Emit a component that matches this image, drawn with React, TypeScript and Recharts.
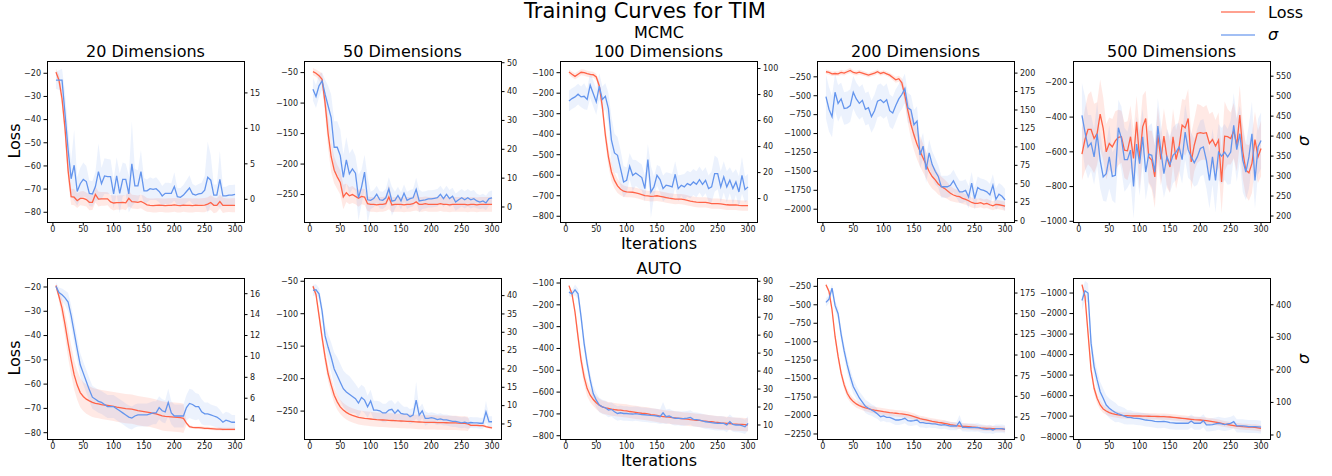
import React from 'react';
import { ComposedChart, Line, Area, XAxis, YAxis } from 'recharts';

const FONT = '"DejaVu Sans", sans-serif';
const RED = '#FF6347';
const BLUE = '#6495ED';

// ---------- shared x values ----------
const iterations = [5,10,15,20,25,30,35,40,45,50,55,60,65,70,75,80,85,90,95,100,105,110,115,120,125,130,135,140,145,150,155,160,165,170,175,180,185,190,195,200,205,210,215,220,225,230,235,240,245,250,255,260,265,270,275,280,285,290,295,300];
const xTicks = [0,50,100,150,200,250,300];

// ---------- MCMC 20 ----------
const mcmc20Loss = [-19.5,-23,-31,-44,-62,-73.3,-73.5,-75,-74,-74, -74.5,-75.7,-75.7,-72.3,-74.3,-74.2,-74.2,-74.2,-75.5,-76, -75.8,-75.8,-75.7,-75.9,-74,-75.4,-75.5,-75.7,-75.3,-76, -76.8,-77,-77.1,-77,-76.9,-77,-77.1,-77,-77,-76.8, -77,-77.1,-76.9,-77,-77,-77.1,-76.9,-77,-77,-76.9, -76.5,-75.8,-77,-77,-75.4,-77,-77,-77,-77,-77];
const mcmc20LossSd = [1.5,2.5,3.5,4.5,4.5,3.5,3.5,3.2,3,3.2, 3,3.4,3.3,3.5,3.2,3,3,2.8,3,3.2, 3,3.1,3,3.2,3.4,3,3,2.9,3,3.1, 3,2.9,3,3.1,3,2.9,3,3.1,3,3, 3.1,3,2.9,3,3.1,3,3,2.9,3,3.1, 3,3.2,3.4,3,3,3.3,3,2.9,3,3];
const mcmc20Sigma = [16.8,16.8,16.8,12,7,2.9,4.8,1.1,2.2,2.8, 2.5,0.84,0.75,1.8,3.9,2.2,3.3,3.2,3.2,0.75, 3.3,0.84,2.8,2.8,0.75,5,1.9,1.9,3.9,1.2, 1.2,1.5,1.4,1.5,1.1,0.47,0.84,0.84,0.84,1.8, 0.37,0.28,0.6,1.1,1.6,0.75,0.6,0.75,0.84,1.3, 3.1,2.7,0.6,0.6,2.8,0.47,0.47,0.6,0.6,0.7];
const mcmc20SigmaSd = [1.2,1.4,1.6,3,3,2.5,5,2,2.2,2.4, 2.2,1.8,1.8,2,4,2.2,2.5,2.5,2.4,2, 2.6,2.8,2.4,2.2,2.6,6,2.4,2.2,3,1.8, 1.6,1.6,1.5,1.6,1.5,1.4,1.5,1.5,1.4,2, 1.2,1.3,1.4,1.6,1.8,1.4,1.3,1.4,1.5,2, 5,3.5,1.5,1.5,4,1.3,1.3,1.4,1.4,1.4];

// ---------- MCMC 50 ----------
const mcmc50Loss = [-48.4,-51,-55,-61,-100,-150,-188,-210,-221,-230, -254,-247,-252,-250,-253,-256,-253,-254,-265,-266, -266,-267,-266,-266,-265,-254,-267,-266,-266,-266, -267,-266,-266,-265,-262,-266,-266,-265,-266,-266, -266,-266,-265,-266,-266,-267,-266,-266,-266,-266, -266,-267,-266,-266,-267,-266,-266,-266,-266,-266];
const mcmc50LossSd = [6,6,7,10,18,25,25,22,20,20, 20,15,14,14,13,14,13,13,12,12, 12,12,12,12,12,20,12,12,12,12, 12,12,12,12,14,12,12,12,12,12, 12,12,12,12,12,12,12,12,12,12, 12,12,12,12,12,12,12,12,12,12];
const mcmc50Sigma = [40.8,38.3,42,43.7,39.1,35,31,20.7,20.7,17.8, 10.3,16.3,11.5,13.2,11.7,3.2,6.9,12.1,2.5,2.3, 2.9,4.4,2.5,2.3,3.2,6.3,2,2.3,4,2.1, 4.8,2.3,2.9,3.2,6.1,2.1,2.3,2.5,2.8,2.8, 3,3.2,4.4,2.9,4.4,2.9,3.7,1.7,2.5,3.2, 2.5,3.2,2.5,2.9,2.1,1.7,2.1,1.4,2.9,3.2];
const mcmc50SigmaSd = [4,4,4,3,5,7,8,9,9,9, 8,8,7,7,6,8,6,6,8,3, 3,3,3,3,3,4,5,3,3,3, 3,3,3,3,4,4,3,3,3,3, 3,3,3,3,3,3,3,3,3,3, 3,3,3,3,2.5,2.5,2.5,2.5,2.5,2.5];

// ---------- MCMC 100 ----------
const mcmc100Loss = [-97,-108,-118,-108,-98,-100,-105,-108,-110,-121, -165,-267,-405,-511,-584,-625,-652,-668,-678,-681, -682,-683,-686,-690,-694,-699,-701,-703,-702,-700, -703,-706,-709,-712,-714,-716,-716,-716,-719,-722, -726,-729,-731,-732,-732,-732,-735,-738,-738,-738, -740,-742,-744,-745,-745,-745,-747,-748,-748,-748];
const mcmc100LossSd = [12,14,15,15,15,15,15,15,15,16, 20,30,40,45,45,40,35,30,28,26, 25,25,25,25,25,25,25,25,25,25, 25,24,25,24,25,25,24,25,25,25, 24,25,25,25,25,25,25,25,25,25, 25,25,25,25,25,25,25,25,25,25];
const mcmc100Sigma = [75.1,76.9,78.2,80.3,78.2,78.7,76.2,87.2,80.8,74.4, 86.4,76.2,78.7,69.2,44.9,35.1,33.3,23.1,12.8,14.1, 24.9,17.9,19.7,17.9,16.2,7.7,30,5.1,9,17.9, 14.6,7.7,10.3,9.7,9,18.7,7.7,10.3,9,11.5, 10.3,12.8,11,14.6,11,14.1,7.7,9,19.2,19.2, 9,16.7,9,14.1,7.7,12.8,5.1,17.9,6.9,9];
const mcmc100SigmaSd = [8,8,8,8,8,10,8,10,10,10, 10,10,10,12,18,15,14,14,12,10, 10,12,10,10,10,10,12,20,8,8, 10,10,10,10,10,10,10,8,10,10, 10,10,10,10,10,10,10,12,14,12, 12,12,12,10,12,10,12,14,10,10];

// ---------- MCMC 200 ----------
const mcmc200Loss = [-183,-192,-210,-206,-210,-192,-201,-183,-166,-192, -201,-188,-201,-214,-228,-214,-201,-183,-206,-192, -210,-228,-259,-290,-275,-330,-500,-700,-880,-1020, -1140,-1235,-1324,-1413,-1502,-1568,-1613,-1666,-1701,-1724, -1755,-1790,-1812,-1826,-1835,-1857,-1870,-1888,-1911,-1923, -1923,-1914,-1932,-1923,-1941,-1955,-1937,-1941,-1950,-1959];
const mcmc200LossSd = [30,30,30,30,30,35,30,30,35,30, 30,30,30,30,30,30,30,30,30,30, 30,30,35,40,40,60,110,160,190,200, 200,200,190,180,170,160,150,140,130,120, 110,100,90,85,80,75,70,70,65,65, 60,60,60,60,60,60,60,60,60,60];
const mcmc200Sigma = [168,151,141,174,159,165,152,153,156,174, 165,159,163,151,153,141,149,162,164,160, 164,149,146,156,165,171,179,153,150,130, 135,89,101,69,92,76,67,60,46,46, 46,48,54,46,39,39,41,32,51,30, 45,42,41,39,35,48,29,36,33,28];
const mcmc200SigmaSd = [30,30,28,25,25,22,22,22,22,22, 22,22,22,22,22,22,22,22,22,22, 22,22,22,22,20,20,20,20,20,20, 20,18,18,18,18,18,18,15,15,15, 15,15,15,15,15,15,15,15,15,15, 15,15,15,15,15,15,15,15,15,15];

// ---------- MCMC 500 ----------
const mcmc500Loss = [-613,-529,-471,-471,-523,-494,-383,-465,-600,-552, -571,-537,-517,-513,-590,-594,-513,-638,-427,-644, -456,-408,-629,-648,-744,-504,-644,-510,-635,-687, -513,-644,-571,-446,-462,-408,-658,-562,-494,-490, -494,-490,-552,-529,-567,-533,-773,-510,-513,-523, -479,-562,-388,-600,-706,-721,-667,-529,-629,-581];
const mcmc500LossSd = [150,180,200,220,200,180,200,180,160,150, 160,170,160,150,160,170,180,160,150,170, 180,160,150,170,180,160,150,160,170,150, 160,170,160,150,160,170,160,150,170,160, 150,160,170,160,150,160,180,200,160,150, 160,150,170,160,150,160,170,160,150,160];
const mcmc500Sigma = [452,410,373,383,348,406,339,298,306,348, 299,302,421,394,341,341,365,274,380,331, 398,310,355,352,310,425,363,306,348,329, 352,360,373,341,410,366,348,333,348,369, 373,339,289,348,289,360,350,360,348,360, 427,366,406,339,310,348,406,289,373,389];
const mcmc500SigmaSd = [80,90,80,70,70,80,70,60,70,80, 60,70,70,80,80,70,80,80,70,80, 70,70,70,80,70,70,70,60,70,70, 70,70,60,60,70,70,60,60,70,70, 70,70,70,70,80,70,70,70,70,80, 80,80,70,80,70,80,80,70,70,70];

// ---------- AUTO 20 ----------
const auto20Loss = [-19.4,-23.9,-28.7,-35.5,-43.1,-50,-56.2,-60.4,-63.5,-65.1, -66.2,-66.9,-67.5,-67.9,-68.1,-68.4,-68.6,-68.8,-69,-69.2, -69.5,-69.7,-69.9,-70.1,-70.2,-70.3,-70.6,-70.9,-71.1,-71.3, -71.5,-71.7,-72,-72.3,-72.7,-73.1,-73.3,-73.4,-73.5,-73.6, -73.7,-73.8,-74.1,-76.1,-77.5,-77.8,-77.9,-77.9,-78,-78.2, -78.2,-78.3,-78.4,-78.5,-78.5,-78.6,-78.6,-78.6,-78.6,-78.6];
const auto20LossSd = [0.5,2,4,5,6,6,6,6,6,6, 6,6,6,6,6,6,6,6,6,6, 6,6,6,6,6,6,6,6,6,6, 6,6,6,6,6,6,6,6,6,6, 6,6,6,0.6,0.6,0.6,0.6,0.6,0.6,0.6, 0.6,0.6,0.6,0.6,0.6,0.6,0.6,0.6,0.6,0.6];
const auto20Sigma = [16.7,16.1,15.9,15.6,15.2,13.9,12.3,10.7,9.2,8.4, 7.6,6.8,6.1,5.9,5.7,5.6,5.4,5.2,5.2,5.2, 5,4.8,4.6,4.4,4.2,4.1,4.3,4.4,4.4,4.4, 4.4,4.5,4.6,4.6,5.1,4.8,4.7,5.6,4.6,4.3, 4.3,4.3,4.3,5.1,5.5,5.4,5.2,5.2,4.7,4.5, 4.5,4.4,4.3,4.2,4,3.7,3.9,3.8,3.7,3.7];
const auto20SigmaSd = [0.4,0.5,0.6,0.7,0.9,1,1.1,1.1,1.1,1.1, 1.1,1.1,1.1,1.1,1.1,1.1,1.1,1.1,1.1,1.1, 1.1,1.1,1.1,1.1,1.1,1.1,1.1,1.1,1.1,1.1, 1.1,1.1,1.1,1.1,1.1,1.1,1.1,1.3,1.1,1.1, 1.1,1.1,1.1,1.2,1.4,1.4,1.3,1.2,1.2,1.1, 1.1,1,1,1,0.9,0.8,0.8,0.8,0.7,0.7];

// ---------- AUTO 50 ----------
const auto50Loss = [-57.6,-70.4,-103,-136.5,-167,-192.5,-210,-225.6,-235.8,-243.5, -248.5,-252,-254.6,-256.6,-258,-259.7,-260.5,-261.2,-261.7,-262.2, -262.7,-263.2,-263.5,-263.7,-264,-264.3,-264.5,-264.8,-265,-265.3, -265.5,-265.8,-266,-266.3,-266.5,-266.8,-267,-267.3,-267.3,-267.3, -267.5,-267.8,-267.8,-267.8,-268,-268.3,-268.3,-268.3,-268.5,-268.8, -269,-269.8,-271.9,-271.9,-272,-272.4,-272.4,-273.9,-275,-276];
const auto50LossSd = [3,5,8,10,12,12,12,12,12,11, 11,11,11,11,11,11,11,11,11,11, 11,11,11,11,11,11,11,11,11,11, 11,11,11,11,11,11,11,11,11,11, 11,11,11,11,11,11,11,11,11,11, 11,11,2,2,2,2,2,2,2,2];
const auto50Sigma = [41.4,41.6,40.5,35.8,29,25.9,23.2,20,18.2,16.4, 14.6,13.7,13.1,12.5,11.9,10.7,12.2,11.5,9.7,11.3, 8.8,8.8,8.6,8,8,8.8,9,7.9,8.8,7.9, 7.7,7.7,7,7.4,11.5,7.4,8.6,6.5,6.5,6.7, 6.5,6.2,6.4,6.1,6.1,5.9,5.7,5.7,5.5,5.3, 5.5,5.2,5.4,5.3,5.3,5.2,5.2,8.3,5.6,5.6];
const auto50SigmaSd = [1.5,1.5,1.5,2,3,3.5,4,4.5,5,5, 5,5,5,4.5,4,4,3.5,3.5,3,3, 2.5,2.5,2.5,2.5,2.5,2.5,2.5,2.5,2.5,2.5, 2,2,2,2,5,2,2,2,1.5,1.5, 1.5,1.5,1.5,1.5,1.5,1.5,1.5,1.5,1.5,1.5, 1.5,1.5,1.5,1.5,1.5,1.5,1.5,3,1.5,1.5];

// ---------- AUTO 100 ----------
const auto100Loss = [-112,-150,-234,-348,-455,-531,-584,-614,-634,-649, -660,-668,-672,-675,-678,-680,-682,-683,-685,-686, -689,-691,-693,-695,-697,-698,-700,-703,-705,-707, -710,-712,-714,-715,-717,-718,-720,-721,-723,-724, -726,-727,-729,-730,-732,-733,-735,-736,-738,-739, -741,-742,-743,-744,-746,-747,-748,-748,-749,-750];
const auto100LossSd = [5,10,20,30,35,35,35,32,30,30, 30,30,30,30,30,30,30,30,30,30, 30,30,30,30,30,30,30,30,30,30, 30,30,30,30,30,30,30,30,30,30, 30,30,30,30,30,30,30,30,30,30, 30,30,30,30,30,30,30,30,30,30];
const auto100Sigma = [83.9,83,85.2,83,70,55.3,44.2,34.9,27.5,23.8, 21.1,20.1,19.6,18.3,18.7,17.4,16.4,16.8,16.4,16.4, 16.2,16.1,16.3,16.1,15.8,15.7,15.5,15.3,15.2,15, 14.6,16.8,14.6,15,14.2,13.7,13.8,13.5,13.6,13.8, 14.2,13.1,13,12.7,12.3,11.8,11.6,11.3,11.1,10.9, 11,10.9,10,11.8,10.3,10,10,9.6,9,10.9];
const auto100SigmaSd = [2,2,3,3,4,4,4,4,4,4, 4,4,4,4,4,4,4,4,4,4, 4,4,4,4,4,4,4,4,4,4, 4,6,4,4,4,4,4,4,4,4, 4,4,4,4,4,4,4,4,4,4, 4,4,4,4,4,4,4,4,4,4];

// ---------- AUTO 200 ----------
const auto200Loss = [-227,-318,-567,-929,-1200,-1426,-1585,-1698,-1766,-1811, -1843,-1865,-1883,-1897,-1906,-1920,-1927,-1933,-1940,-1947, -1953,-1960,-1965,-1969,-1974,-1978,-1985,-1992,-2003,-2015, -2028,-2042,-2051,-2060,-2069,-2078,-2085,-2092,-2098,-2105, -2114,-2123,-2130,-2137,-2142,-2146,-2148,-2150,-2155,-2159, -2164,-2168,-2170,-2173,-2175,-2177,-2177,-2177,-2182,-2187];
const auto200LossSd = [20,30,50,60,60,60,60,60,55,50, 50,45,45,45,45,45,45,45,45,45, 45,45,45,45,45,45,45,45,45,45, 40,40,40,40,40,40,40,40,40,40, 40,40,40,40,40,40,40,40,40,40, 35,35,35,35,35,35,35,35,35,35];
const auto200Sigma = [163.7,167.7,181,160,150,125,105,88,74,62, 55,48,43,38,35.6,33.5,31.5,28.7,25.4,26.3, 24.6,24.6,23,21.4,21.4,22.2,23.4,20.6,20.2,20.6, 21.4,18.2,18.2,17.4,17.4,16.6,16.6,15.7,15.3,15.7, 14.9,14.1,14.1,14.1,19.4,12.5,12.5,12.1,12.5,12.1, 12.5,11.3,10.5,10.1,10.5,9.3,10.9,10.9,10.9,10.1];
const auto200SigmaSd = [5,5,5,6,7,8,8,9,9,9, 8,8,8,8,8,7,7,6,6,6, 6,6,6,6,6,6,6,6,6,6, 6,6,6,6,5,5,5,5,5,5, 5,5,5,5,8,5,5,5,5,5, 5,5,5,5,5,5,5,5,5,5];

// ---------- AUTO 500 ----------
const auto500Loss = [-593,-1163,-2954,-4746,-5642,-6130,-6456,-6651,-6749,-6831, -6879,-6912,-6940,-6961,-6970,-6977,-6985,-6993,-6993,-6993, -6998,-7002,-7006,-7010,-7014,-7018,-7022,-7026,-7034,-7042, -7058,-7075,-7091,-7107,-7124,-7140,-7157,-7173,-7181,-7189, -7205,-7221,-7245,-7270,-7295,-7319,-7352,-7384,-7408,-7433, -7458,-7482,-7498,-7515,-7523,-7531,-7539,-7547,-7570,-7596];
const auto500LossSd = [50,100,200,250,250,250,220,200,180,170, 160,160,150,150,150,150,150,150,150,150, 150,150,150,150,150,150,150,150,150,150, 150,150,150,150,150,150,150,150,150,150, 150,150,150,150,150,150,150,150,150,150, 150,150,150,150,150,150,150,150,150,150];
const auto500Sigma = [413,443,436,282,210,169,133,113,92,82, 75,69,65,62,58,54,54,52,51,50, 48,46,45,44,42,41,41,42,40,38, 37,36,36,36,36,36,43,36,36,36, 44,31,31,32,34,36,34,32,34,36, 41,28,28,28,27,26,26,26,25,24];
const auto500SigmaSd = [30,30,30,30,30,30,30,30,30,30, 30,30,25,25,25,22,22,20,20,20, 20,20,20,20,20,20,20,20,20,20, 20,20,20,20,20,20,20,20,20,20, 20,20,20,20,20,20,20,20,20,20, 20,20,20,20,20,20,20,20,20,20];

// ---------- axis ticks ----------
const ticksLoss20 = [-80,-70,-60,-50,-40,-30,-20];
const ticksLoss50 = [-250,-200,-150,-100,-50];
const ticksLoss100 = [-800,-700,-600,-500,-400,-300,-200,-100];
const ticksLoss200m = [-2000,-1750,-1500,-1250,-1000,-750,-500,-250];
const ticksLoss500m = [-1000,-800,-600,-400,-200];
const ticksLoss200a = [-2250,-2000,-1750,-1500,-1250,-1000,-750,-500,-250];
const ticksLoss500a = [-8000,-7000,-6000,-5000,-4000,-3000,-2000,-1000];
const ticksSigM20 = [0,5,10,15];
const ticksSigM50 = [0,10,20,30,40,50];
const ticksSigM100 = [0,20,40,60,80,100];
const ticksSigM200 = [0,25,50,75,100,125,150,175,200];
const ticksSigM500 = [200,250,300,350,400,450,500,550];
const ticksSigA20 = [4,6,8,10,12,14,16];
const ticksSigA50 = [5,10,15,20,25,30,35,40];
const ticksSigA100 = [10,20,30,40,50,60,70,80,90];
const ticksSigA200 = [0,25,50,75,100,125,150,175];
const ticksSigA500 = [0,100,200,300,400];

type Spec = {
  loss: number[]; lossSd: number[]; sigma: number[]; sigmaSd: number[];
  lossDomain: [number, number]; lossTicks: number[];
  sigDomain: [number, number]; sigTicks: number[];
};

const panelsTop: Spec[] = [
  { loss: mcmc20Loss, lossSd: mcmc20LossSd, sigma: mcmc20Sigma, sigmaSd: mcmc20SigmaSd, lossDomain: [-84.2, -14.7], lossTicks: ticksLoss20, sigDomain: [-3.2, 19.5], sigTicks: ticksSigM20 },
  { loss: mcmc50Loss, lossSd: mcmc50LossSd, sigma: mcmc50Sigma, sigmaSd: mcmc50SigmaSd, lossDomain: [-295, -31], lossTicks: ticksLoss50, sigDomain: [-5.2, 50.6], sigTicks: ticksSigM50 },
  { loss: mcmc100Loss, lossSd: mcmc100LossSd, sigma: mcmc100Sigma, sigmaSd: mcmc100SigmaSd, lossDomain: [-828, -43], lossTicks: ticksLoss100, sigDomain: [-18, 105.8], sigTicks: ticksSigM100 },
  { loss: mcmc200Loss, lossSd: mcmc200LossSd, sigma: mcmc200Sigma, sigmaSd: mcmc200SigmaSd, lossDomain: [-2169, -41], lossTicks: ticksLoss200m, sigDomain: [-1.8, 216.4], sigTicks: ticksSigM200 },
  { loss: mcmc500Loss, lossSd: mcmc500LossSd, sigma: mcmc500Sigma, sigmaSd: mcmc500SigmaSd, lossDomain: [-1004, -77], lossTicks: ticksLoss500m, sigDomain: [185, 588], sigTicks: ticksSigM500 },
];
const panelsBottom: Spec[] = [
  { loss: auto20Loss, lossSd: auto20LossSd, sigma: auto20Sigma, sigmaSd: auto20SigmaSd, lossDomain: [-82.6, -16.3], lossTicks: ticksLoss20, sigDomain: [2.1, 17.5], sigTicks: ticksSigA20 },
  { loss: auto50Loss, lossSd: auto50LossSd, sigma: auto50Sigma, sigmaSd: auto50SigmaSd, lossDomain: [-293, -45], lossTicks: ticksLoss50, sigDomain: [0.9, 44.8], sigTicks: ticksSigA50 },
  { loss: auto100Loss, lossSd: auto100LossSd, sigma: auto100Sigma, sigmaSd: auto100SigmaSd, lossDomain: [-815, -77], lossTicks: ticksLoss100, sigDomain: [2.2, 91.8], sigTicks: ticksSigA100 },
  { loss: auto200Loss, lossSd: auto200LossSd, sigma: auto200Sigma, sigmaSd: auto200SigmaSd, lossDomain: [-2318, -137], lossTicks: ticksLoss200a, sigDomain: [-1.6, 193.2], sigTicks: ticksSigA200 },
  { loss: auto500Loss, lossSd: auto500LossSd, sigma: auto500Sigma, sigmaSd: auto500SigmaSd, lossDomain: [-8114, -267], lossTicks: ticksLoss500a, sigDomain: [-12.3, 482], sigTicks: ticksSigA500 },
];

const titlesTop = ['20 Dimensions', '50 Dimensions', '100 Dimensions', '200 Dimensions', '500 Dimensions'];

const fmt = (v: number) => (v < 0 ? '\u2212' + Math.abs(v) : String(v));

const PLOT_W = 197;
const PLOT_H = 161;
const LEFT_W = 45;
const RIGHT_W = 40;
const TOP_M = 5;
const XAXIS_H = 22;
const colLefts = [47, 304, 560, 817, 1073];
const rowTops = [61, 278];

const tickStyle = { fontSize: 8, fill: '#1a1a1a', fontFamily: FONT };

function Panel({ spec, left, top }: { spec: Spec; left: number; top: number }) {
  const data = iterations.map((it, i) => ({
    it,
    loss: spec.loss[i],
    lossBand: [spec.loss[i] - spec.lossSd[i], spec.loss[i] + spec.lossSd[i]],
    sigma: spec.sigma[i],
    sigmaBand: [spec.sigma[i] - spec.sigmaSd[i], spec.sigma[i] + spec.sigmaSd[i]],
  }));
  const W = LEFT_W + PLOT_W + RIGHT_W;
  const H = TOP_M + PLOT_H + XAXIS_H;
  return (
    <div style={{ position: 'absolute', left: left - LEFT_W, top: top - TOP_M, width: W, height: H }}>
      <ComposedChart width={W} height={H} data={data} margin={{ top: TOP_M, right: 0, bottom: 0, left: 0 }}>
        <XAxis
          dataKey="it"
          type="number"
          domain={[-9.75, 314.75]}
          ticks={xTicks}
          interval={0}
          allowDataOverflow
          height={XAXIS_H}
          axisLine={false}
          tickLine={{ stroke: '#000' }}
          tickSize={3.5}
          tickMargin={1}
          tick={tickStyle}
        />
        <YAxis
          yAxisId="loss"
          orientation="left"
          type="number"
          width={LEFT_W}
          domain={spec.lossDomain}
          ticks={spec.lossTicks}
          interval={0}
          allowDataOverflow
          axisLine={false}
          tickLine={{ stroke: '#000' }}
          tickSize={3.5}
          tickMargin={2.5}
          tickFormatter={fmt}
          tick={tickStyle}
        />
        <YAxis
          yAxisId="sigma"
          orientation="right"
          type="number"
          width={RIGHT_W}
          domain={spec.sigDomain}
          ticks={spec.sigTicks}
          interval={0}
          allowDataOverflow
          axisLine={false}
          tickLine={{ stroke: '#000' }}
          tickSize={3.5}
          tickMargin={2.5}
          tickFormatter={fmt}
          tick={tickStyle}
        />
        <Area yAxisId="loss" dataKey="lossBand" stroke="none" fill={RED} fillOpacity={0.14} isAnimationActive={false} />
        <Line yAxisId="loss" dataKey="loss" stroke={RED} strokeWidth={1.3} dot={false} activeDot={false} isAnimationActive={false} />
        <Area yAxisId="sigma" dataKey="sigmaBand" stroke="none" fill={BLUE} fillOpacity={0.12} isAnimationActive={false} />
        <Line yAxisId="sigma" dataKey="sigma" stroke={BLUE} strokeWidth={1.3} dot={false} activeDot={false} isAnimationActive={false} />
      </ComposedChart>
      <div
        style={{
          position: 'absolute', left: LEFT_W, top: TOP_M, width: PLOT_W + 1, height: PLOT_H + 1,
          border: '1px solid #000', boxSizing: 'border-box', pointerEvents: 'none', marginLeft: -0.5, marginTop: -0.5,
        }}
      />
    </div>
  );
}

export default function App() {
  const text = { fontFamily: FONT, fill: '#000' } as const;
  return (
    <div style={{ position: 'absolute', left: 0, top: 0, width: 1332, height: 476, background: '#fff', overflow: 'hidden' }}>
      {panelsTop.map((s, i) => (
        <Panel key={'t' + i} spec={s} left={colLefts[i]} top={rowTops[0]} />
      ))}
      {panelsBottom.map((s, i) => (
        <Panel key={'b' + i} spec={s} left={colLefts[i]} top={rowTops[1]} />
      ))}
      <svg width={1332} height={476} style={{ position: 'absolute', left: 0, top: 0, pointerEvents: 'none' }}>
        <text x={645} y={18} textAnchor="middle" fontSize={21} {...text}>Training Curves for TIM</text>
        <text x={659} y={38} textAnchor="middle" fontSize={16} {...text}>MCMC</text>
        {titlesTop.map((t, i) => (
          <text key={t} x={colLefts[i] + PLOT_W / 2} y={56.5} textAnchor="middle" fontSize={16} {...text}>{t}</text>
        ))}
        <text x={659} y={249} textAnchor="middle" fontSize={16} {...text}>Iterations</text>
        <text x={659} y={274} textAnchor="middle" fontSize={16} {...text}>AUTO</text>
        <text x={659} y={466} textAnchor="middle" fontSize={16} {...text}>Iterations</text>
        <text x={20} y={141} textAnchor="middle" fontSize={16} transform="rotate(-90 20 141)" {...text}>Loss</text>
        <text x={20} y={358} textAnchor="middle" fontSize={16} transform="rotate(-90 20 358)" {...text}>Loss</text>
        <text x={1309} y={141} textAnchor="middle" fontSize={16} fontStyle="italic" transform="rotate(-90 1309 141)" {...text}>σ</text>
        <text x={1309} y={359} textAnchor="middle" fontSize={16} fontStyle="italic" transform="rotate(-90 1309 359)" {...text}>σ</text>
        <line x1={1221} y1={12} x2={1255} y2={12} stroke={RED} strokeWidth={1.3} strokeOpacity={0.8} />
        <text x={1268} y={18} fontSize={16} {...text}>Loss</text>
        <line x1={1221} y1={35} x2={1255} y2={35} stroke={BLUE} strokeWidth={1.3} strokeOpacity={0.8} />
        <text x={1268} y={40} fontSize={16} fontStyle="italic" {...text}>σ</text>
      </svg>
    </div>
  );
}
